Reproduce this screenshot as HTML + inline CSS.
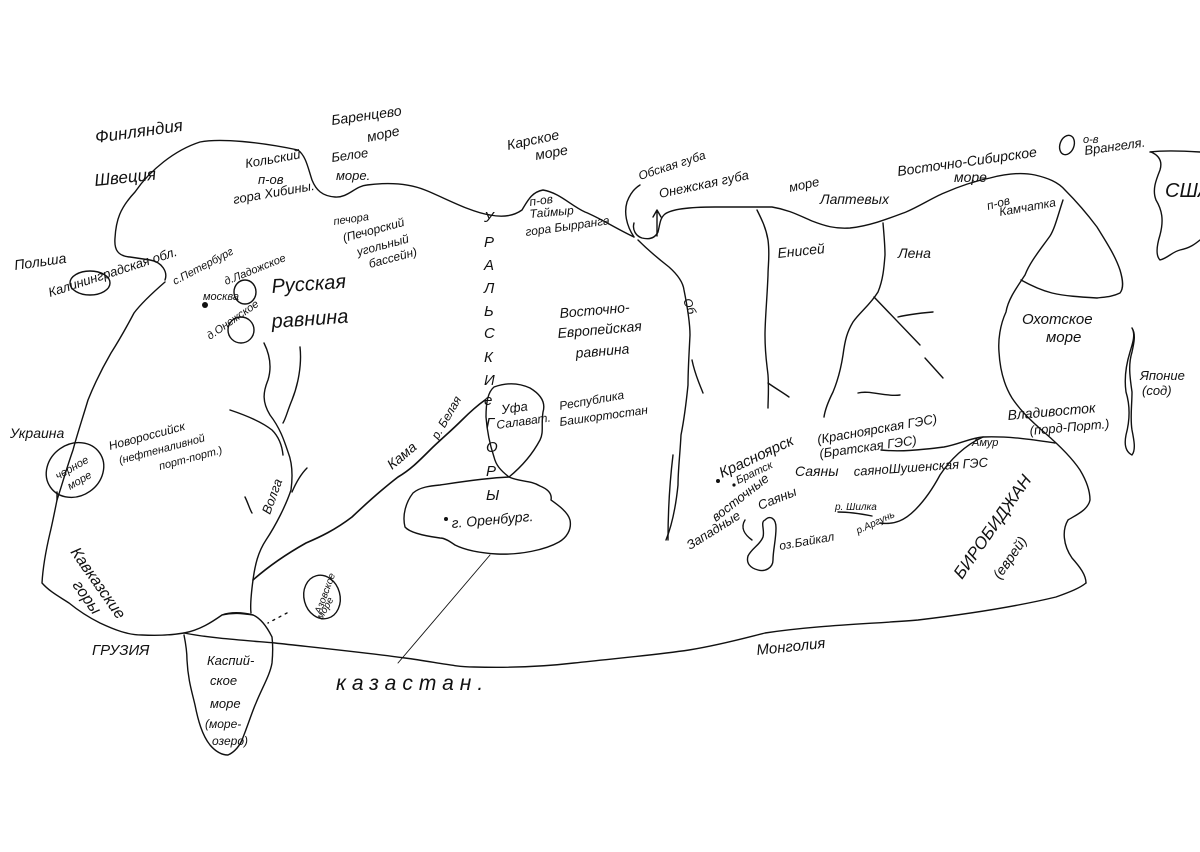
<!DOCTYPE html>
<html><head><meta charset="utf-8"><style>
html,body{margin:0;padding:0;background:#fff;}
svg{display:block}
text{font-family:"Liberation Sans",sans-serif;font-style:italic;fill:#111;}
</style></head><body>
<svg width="1200" height="852" viewBox="0 0 1200 852" xmlns="http://www.w3.org/2000/svg">
<g fill="none" stroke="#111" stroke-width="1.4" stroke-linecap="round" stroke-linejoin="round">
<path d="M165,280 C168,272 162,262 150,260 L130,257 C118,256 114,250 115,238 C116,220 120,208 135,192 C150,170 175,150 200,142 C220,138 260,142 298,150 C306,156 308,168 312,180 C316,190 322,196 335,197 C348,198 355,186 367,185 C390,182 410,184 425,190 C445,198 470,212 490,215 C505,218 515,215 522,210 C528,200 532,192 543,190 C560,193 570,205 585,212 C600,218 615,228 634,237"/>
<path d="M634,237 C626,225 624,212 627,202 C630,194 635,188 640,185"/>
<path d="M634,223 C632,230 636,236 642,238 C650,240 655,238 658,232 C660,224 660,218 665,214 C672,209 690,207 715,207 L772,207 C790,210 800,216 812,221 C825,226 835,229 850,228 C870,226 890,218 906,212 C920,206 932,198 944,193 C960,186 975,181 990,178 C1005,174 1021,172 1035,175 C1048,178 1058,182 1065,190 C1075,200 1088,215 1097,227 C1105,240 1115,255 1120,270 C1123,280 1124,288 1120,293 C1112,297 1104,297 1097,298 C1080,297 1065,296 1052,293 C1040,290 1030,285 1021,280"/>
<path d="M657,236 L657,212 M653,217 L657,210 L661,217"/>
<path d="M1063,200 C1058,215 1055,228 1050,236 C1040,250 1030,262 1025,275 C1015,290 1008,300 1006,312 C1000,325 998,340 999,352 C1000,370 1004,385 1012,398 C1020,410 1030,420 1045,433 C1060,446 1072,458 1080,470 C1086,480 1090,490 1090,500 C1088,510 1076,515 1068,520 C1062,530 1063,545 1072,558 C1080,567 1086,575 1086,583"/>
<path d="M165,282 C150,295 140,305 134,313 C125,330 118,342 111,353 C100,372 94,385 88,400 C82,420 77,435 73,450 C66,470 62,485 57,500 C54,515 52,525 50,533 C46,550 43,565 42,583 C50,592 60,597 69,603 C80,612 90,618 100,623 C115,630 128,635 142,635 C160,636 172,635 184,633 C200,630 212,622 222,615 C235,612 245,614 253,615"/>
<path d="M184,633 C210,638 240,640 275,643 C320,648 360,652 405,658 C435,662 455,667 474,667 C510,668 540,667 574,663 C620,658 655,655 689,650 C720,645 745,638 765,633 C820,625 870,624 918,620 C960,615 1010,608 1056,597 C1070,592 1080,588 1086,583"/>
<path d="M184,635 C186,645 187,652 187,660 C188,680 192,692 195,705 C198,720 202,735 210,745 C216,752 222,755 228,755 C235,752 240,745 242,740 C248,725 252,712 256,703 C262,688 270,675 272,663 C273,652 273,645 272,637 C266,625 260,618 253,615 C242,612 230,612 222,615"/>
<ellipse cx="75" cy="470" rx="30" ry="26" transform="rotate(-35 75 470)"/>
<path d="M57,492 L57,500"/>
<ellipse cx="90" cy="283" rx="20" ry="12"/>
<ellipse cx="245" cy="292" rx="11" ry="12"/>
<ellipse cx="241" cy="330" rx="13" ry="13"/>
<ellipse cx="322" cy="597" rx="18" ry="22" transform="rotate(-15 322 597)"/>
<path d="M264,343 C270,355 272,367 268,380 C263,392 262,402 270,415 C280,428 284,440 288,452 C292,462 293,475 291,490 C286,505 276,525 266,540 C258,552 255,565 253,580 C251,595 250,605 251,613"/>
<path d="M300,347 C302,365 298,385 292,400 C287,412 286,418 283,423"/>
<path d="M230,410 C245,415 262,422 272,430 C278,436 282,445 283,455"/>
<path d="M307,468 C300,475 295,485 292,492"/>
<path d="M245,497 C248,503 250,510 252,513"/>
<path d="M485,400 C478,405 470,412 462,420 C450,432 440,440 430,450 C418,462 410,470 398,477 C385,487 370,500 352,517 C335,530 320,537 306,543 C290,552 270,565 253,580" stroke-width="1.6"/>
<path d="M494,387 C505,383 517,382 530,388 C540,394 546,402 543,412 C541,425 544,432 540,440 C532,455 520,468 509,477 C500,470 496,465 494,457 C490,445 487,430 486,417 C486,402 488,392 494,387 Z"/>
<path d="M509,477 C520,482 530,480 540,486 C550,490 552,495 551,500 C558,505 568,512 570,520 C572,530 566,538 559,542 C545,550 520,555 497,554 C480,553 465,550 455,545 C448,540 444,538 440,538 C425,536 410,533 405,527 C402,515 406,502 413,493 C420,487 430,486 440,485 C460,482 485,478 509,477"/>
<path d="M490,555 L398,663" stroke-width="0.9"/>
<path d="M287,613 L268,623" stroke-dasharray="2,5"/>
<path d="M638,240 C650,252 660,260 669,267 C678,275 683,282 684,290 C688,310 690,325 690,335 C689,355 688,370 688,385 C686,405 684,420 681,435 C680,455 678,470 678,485 C676,505 672,525 666,540"/>
<path d="M757,210 C762,220 766,228 768,240 C770,255 768,265 768,275 C767,300 765,320 765,335 C765,355 767,365 768,375 C769,390 768,400 768,408"/>
<path d="M768,383 C775,388 782,392 789,397"/>
<path d="M692,360 C695,375 700,385 703,393"/>
<path d="M883,223 C884,235 885,245 885,255 C884,268 883,280 878,292 C870,305 860,312 853,322 C847,332 845,340 843,355 C841,368 838,380 833,392 C828,402 825,410 824,417"/>
<path d="M874,297 L920,345"/>
<path d="M925,358 L943,378"/>
<path d="M898,317 C910,314 922,313 933,312"/>
<path d="M858,393 C870,390 885,397 900,395"/>
<path d="M881,450 C900,452 920,450 944,447 C960,444 970,438 983,437 C1010,436 1035,440 1055,443"/>
<path d="M983,437 C965,445 950,460 940,475 C932,490 925,500 915,510 C905,520 895,525 880,523"/>
<path d="M838,512 C850,512 862,514 872,516"/>
<path d="M765,520 C770,515 776,518 776,528 C776,540 773,550 773,560 C773,568 765,572 758,570 C750,568 746,563 748,556 C752,548 760,545 763,537 C765,530 760,522 765,520 Z"/>
<path d="M752,540 C745,535 740,528 745,520"/>
<path d="M673,455 C670,480 668,510 668,540"/>
<path d="M1132,328 C1136,335 1132,345 1130,352 C1126,365 1124,378 1126,392 C1130,405 1130,420 1126,435 C1124,445 1126,452 1132,455 C1136,450 1134,440 1132,430 C1130,418 1132,405 1132,392 C1130,378 1128,365 1132,352 C1134,343 1136,334 1132,328"/>
<path d="M1151,152 C1158,155 1163,160 1160,170 C1156,180 1152,190 1156,200 C1162,210 1164,220 1160,235 C1156,248 1156,256 1160,260 C1168,258 1172,252 1180,250 C1190,248 1195,244 1200,240"/>
<path d="M1150,152 C1165,150 1185,151 1200,152"/>
<ellipse cx="1067" cy="145" rx="7" ry="10" transform="rotate(20 1067 145)"/>
</g>
<circle cx="205" cy="305" r="3" fill="#111"/>
<circle cx="718" cy="481" r="2" fill="#111"/>
<circle cx="734" cy="485" r="1.6" fill="#111"/>
<circle cx="446" cy="519" r="2" fill="#111"/>

<g font-size="15">
<text x="96" y="143" font-size="17" transform="rotate(-8 96 143)">Финляндия</text>
<text x="95" y="186" font-size="17" transform="rotate(-6 95 186)">Швеция</text>
<text x="332" y="125" font-size="14" transform="rotate(-8 332 125)">Баренцево</text>
<text x="368" y="142" font-size="14" transform="rotate(-12 368 142)">море</text>
<text x="246" y="168" font-size="13" transform="rotate(-10 246 168)">Кольский</text>
<text x="258" y="184" font-size="13">п-ов</text>
<text x="234" y="204" font-size="13" transform="rotate(-10 234 204)">гора Хибины.</text>
<text x="332" y="162" font-size="13" transform="rotate(-8 332 162)">Белое</text>
<text x="336" y="180" font-size="13">море.</text>
<text x="508" y="150" font-size="14" transform="rotate(-12 508 150)">Карское</text>
<text x="536" y="160" font-size="14" transform="rotate(-10 536 160)">море</text>
<text x="334" y="225" font-size="11" transform="rotate(-8 334 225)">печора</text>
<text x="344" y="242" font-size="12" transform="rotate(-15 344 242)">(Печорский</text>
<text x="358" y="256" font-size="12" transform="rotate(-15 358 256)">угольный</text>
<text x="370" y="268" font-size="12" transform="rotate(-15 370 268)">бассейн)</text>
<text x="15" y="270" font-size="14" transform="rotate(-8 15 270)">Польша</text>
<text x="50" y="297" font-size="13" transform="rotate(-18 50 297)">Калининградская обл.</text>
<text x="175" y="285" font-size="11" transform="rotate(-28 175 285)">с.Петербург</text>
<text x="226" y="285" font-size="11" transform="rotate(-22 226 285)">д.Ладожское</text>
<text x="203" y="300" font-size="11">москва</text>
<text x="210" y="340" font-size="11" transform="rotate(-35 210 340)">д.Онежское</text>
<text x="272" y="293" font-size="20" transform="rotate(-4 272 293)">Русская</text>
<text x="272" y="328" font-size="20" transform="rotate(-4 272 328)">равнина</text>
<g font-size="15" font-style="normal">
<text x="484" y="222">У</text><text x="484" y="247">Р</text><text x="484" y="270">А</text><text x="484" y="293">Л</text><text x="484" y="316">Ь</text><text x="484" y="338">С</text><text x="484" y="362">К</text><text x="484" y="385">И</text><text x="484" y="405">е</text><text x="486" y="428">Г</text><text x="486" y="452">О</text><text x="486" y="476">Р</text><text x="486" y="500">Ы</text>
</g>
<text x="530" y="206" font-size="12" transform="rotate(-8 530 206)">п-ов</text>
<text x="530" y="218" font-size="12" transform="rotate(-5 530 218)">Таймыр</text>
<text x="526" y="236" font-size="12" transform="rotate(-8 526 236)">гора Бырранга</text>
<text x="560" y="318" font-size="14" transform="rotate(-5 560 318)">Восточно-</text>
<text x="558" y="338" font-size="14" transform="rotate(-5 558 338)">Европейская</text>
<text x="576" y="358" font-size="14" transform="rotate(-5 576 358)">равнина</text>
<text x="502" y="414" font-size="13" transform="rotate(-8 502 414)">Уфа</text>
<text x="497" y="429" font-size="12" transform="rotate(-8 497 429)">Салават.</text>
<text x="560" y="410" font-size="12" transform="rotate(-10 560 410)">Республика</text>
<text x="560" y="426" font-size="12" transform="rotate(-8 560 426)">Башкортостан</text>
<text x="438" y="440" font-size="12" transform="rotate(-60 438 440)">р. Белая</text>
<text x="392" y="470" font-size="14" transform="rotate(-40 392 470)">Кама</text>
<text x="10" y="438" font-size="14">Украина</text>
<text x="58" y="480" font-size="11" transform="rotate(-30 58 480)">черное</text>
<text x="70" y="490" font-size="11" transform="rotate(-30 70 490)">море</text>
<text x="110" y="450" font-size="12" transform="rotate(-15 110 450)">Новороссийск</text>
<text x="120" y="464" font-size="11" transform="rotate(-15 120 464)">(нефтеналивной</text>
<text x="160" y="470" font-size="11" transform="rotate(-15 160 470)">порт-порт.)</text>
<text x="270" y="515" font-size="13" transform="rotate(-70 270 515)">Волга</text>
<text x="70" y="552" font-size="16" transform="rotate(55 70 552)">Кавказские</text>
<text x="72" y="585" font-size="16" transform="rotate(55 72 585)">горы</text>
<text x="92" y="655" font-size="15" font-style="normal">ГРУЗИЯ</text>
<text x="207" y="665" font-size="13">Каспий-</text>
<text x="210" y="685" font-size="13">ское</text>
<text x="210" y="708" font-size="13">море</text>
<text x="205" y="728" font-size="12">(море-</text>
<text x="212" y="745" font-size="12">озеро)</text>
<text x="300" y="615" font-size="10" transform="rotate(-70 310 600)">Азовское</text>
<text x="322" y="620" font-size="10" transform="rotate(-60 322 620)">море</text>
<text x="336" y="690" font-size="21" letter-spacing="6" font-style="normal">казастан.</text>
<text x="757" y="655" font-size="15" transform="rotate(-6 757 655)">Монголия</text>
<text x="452" y="528" font-size="14" transform="rotate(-5 452 528)">г. Оренбург.</text>
<text x="640" y="180" font-size="12" transform="rotate(-18 640 180)">Обская губа</text>
<text x="660" y="198" font-size="13" transform="rotate(-12 660 198)">Онежская губа</text>
<text x="790" y="192" font-size="13" transform="rotate(-12 790 192)">море</text>
<text x="820" y="204" font-size="14">Лаптевых</text>
<text x="898" y="176" font-size="14" transform="rotate(-8 898 176)">Восточно-Сибирское</text>
<text x="954" y="182" font-size="14">море</text>
<text x="1083" y="143" font-size="11">о-в</text>
<text x="1085" y="155" font-size="13" transform="rotate(-8 1085 155)">Врангеля.</text>
<text x="1165" y="197" font-size="20" font-style="normal">США</text>
<text x="778" y="258" font-size="14" transform="rotate(-6 778 258)">Енисей</text>
<text x="898" y="258" font-size="14">Лена</text>
<text x="988" y="210" font-size="12" transform="rotate(-15 988 210)">п-ов</text>
<text x="1000" y="216" font-size="12" transform="rotate(-10 1000 216)">Камчатка</text>
<text x="1022" y="324" font-size="15">Охотское</text>
<text x="1046" y="342" font-size="15">море</text>
<text x="1140" y="380" font-size="13">Японие</text>
<text x="1142" y="395" font-size="13">(сод)</text>
<text x="1008" y="420" font-size="14" transform="rotate(-5 1008 420)">Владивосток</text>
<text x="1030" y="435" font-size="13" transform="rotate(-5 1030 435)">(порд-Порт.)</text>
<text x="722" y="478" font-size="15" transform="rotate(-25 722 478)">Красноярск</text>
<text x="738" y="484" font-size="11" transform="rotate(-25 738 484)">Братск</text>
<text x="818" y="444" font-size="13" transform="rotate(-10 818 444)">(Красноярская ГЭС)</text>
<text x="820" y="458" font-size="13" transform="rotate(-8 820 458)">(Братская ГЭС)</text>
<text x="795" y="476" font-size="14">Саяны</text>
<text x="854" y="476" font-size="13" transform="rotate(-4 854 476)">саяноШушенская ГЭС</text>
<text x="972" y="446" font-size="11">Амур</text>
<text x="716" y="522" font-size="13" transform="rotate(-38 716 522)">восточные</text>
<text x="760" y="510" font-size="13" transform="rotate(-22 760 510)">Саяны</text>
<text x="690" y="550" font-size="13" transform="rotate(-32 690 550)">Западные</text>
<text x="835" y="510" font-size="10">р. Шилка</text>
<text x="858" y="534" font-size="10" transform="rotate(-25 858 534)">р.Аргунь</text>
<text x="780" y="550" font-size="12" transform="rotate(-10 780 550)">оз.Байкал</text>
<text x="962" y="580" font-size="17" font-style="normal" transform="rotate(-55 962 580)">БИРОБИДЖАН</text>
<text x="1000" y="580" font-size="14" transform="rotate(-55 1000 580)">(еврей)</text>
<text x="683" y="300" font-size="12" transform="rotate(70 683 300)">Об</text>
</g>
</svg>
</body></html>
